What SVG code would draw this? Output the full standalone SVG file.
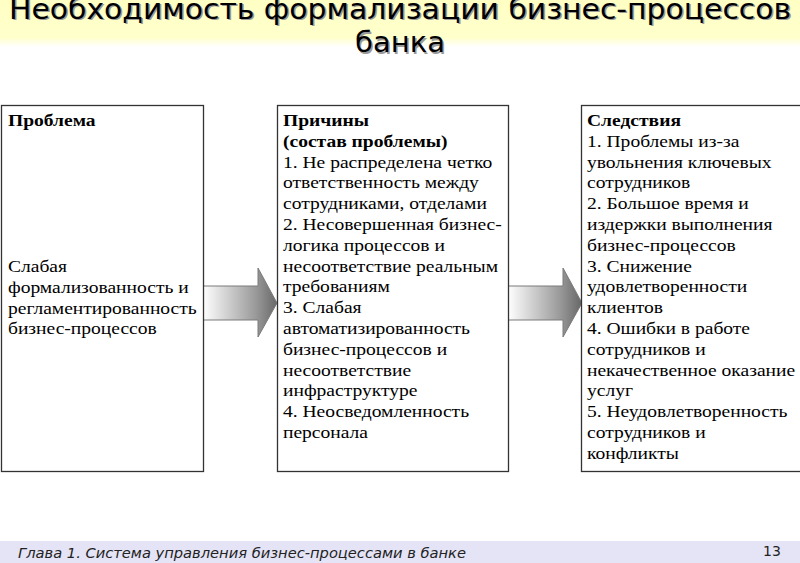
<svg xmlns="http://www.w3.org/2000/svg" width="800" height="563" viewBox="0 0 800 563">
<style>
.box{fill:#fff;stroke:#333;stroke-width:1.3}
.t{font-family:'Liberation Serif','DejaVu Serif',serif;font-size:17px;fill:#000}
.b{font-weight:bold}
.title{font-family:'DejaVu Sans',sans-serif;font-size:29px;text-anchor:middle}
.arrow{stroke:#7a7a7a;stroke-width:1}
.foot{font-family:'DejaVu Sans',sans-serif;font-size:14px;fill:#222}
</style>
<defs>
<linearGradient id="band" x1="0" y1="0" x2="0" y2="1">
<stop offset="0" stop-color="#FFFFC4"/>
<stop offset="0.8" stop-color="#FFFFCC"/>
<stop offset="1" stop-color="#FFFFFF"/>
</linearGradient>
<linearGradient id="g1" gradientUnits="userSpaceOnUse" x1="203" y1="0" x2="278" y2="0">
<stop offset="0" stop-color="#FFFFFF"/>
<stop offset="0.7" stop-color="#9a9a9a"/>
<stop offset="1" stop-color="#666666"/>
</linearGradient>
<linearGradient id="g2" gradientUnits="userSpaceOnUse" x1="508" y1="0" x2="582" y2="0">
<stop offset="0" stop-color="#FFFFFF"/>
<stop offset="0.7" stop-color="#9a9a9a"/>
<stop offset="1" stop-color="#666666"/>
</linearGradient>
</defs>
<rect x="0" y="0" width="800" height="47" fill="url(#band)"/>
<g id="title">
<text class="title" x="401.5" y="20" fill="#9a9a9a" textLength="782" lengthAdjust="spacingAndGlyphs">Необходимость формализации бизнес-процессов</text>
<text class="title" x="401.5" y="53.5" fill="#9a9a9a">банка</text>
<text class="title" x="400" y="18.5" fill="#000" textLength="782" lengthAdjust="spacingAndGlyphs">Необходимость формализации бизнес-процессов</text>
<text class="title" x="400" y="52" fill="#000">банка</text>
</g>
<g id="connectors">
<path class="arrow" fill="url(#g1)" d="M203,286 H258 V268 L277,303 L258,337 V320 H203 Z"/>
<path class="arrow" fill="url(#g2)" d="M508,286 H563 V268 L582,303 L563,337 V320 H508 Z"/>
</g>
<g id="problem">
<rect class="box" x="1.5" y="105.5" width="202" height="366"/>
<g transform="matrix(1.15,0,0,1,-1.2,0)">
<text class="t b" x="8" y="126">Проблема</text>
<text class="t" x="8" y="272">Слабая</text>
<text class="t" x="8" y="293">формализованность и</text>
<text class="t" x="8" y="314">регламентированность</text>
<text class="t" x="8" y="334">бизнес-процессов</text>
</g>
</g>
<g id="causes">
<rect class="box" x="277.5" y="105.5" width="231" height="366"/>
<text class="t" x="283" y="126" transform="matrix(1.15,0,0,1,-42.45,0)"><tspan class="b">Причины</tspan>
<tspan class="b" x="283" dy="20.8">(состав проблемы)</tspan>
<tspan x="283" dy="20.8">1. Не распределена четко</tspan>
<tspan x="283" dy="20.8">ответственность между</tspan>
<tspan x="283" dy="20.8">сотрудниками, отделами</tspan>
<tspan x="283" dy="20.8">2. Несовершенная бизнес-</tspan>
<tspan x="283" dy="20.8">логика процессов и</tspan>
<tspan x="283" dy="20.8">несоответствие реальным</tspan>
<tspan x="283" dy="20.8">требованиям</tspan>
<tspan x="283" dy="20.8">3. Слабая</tspan>
<tspan x="283" dy="20.8">автоматизированность</tspan>
<tspan x="283" dy="20.8">бизнес-процессов и</tspan>
<tspan x="283" dy="20.8">несоответствие</tspan>
<tspan x="283" dy="20.8">инфраструктуре</tspan>
<tspan x="283" dy="20.8">4. Неосведомленность</tspan>
<tspan x="283" dy="20.8">персонала</tspan></text>
</g>
<g id="consequences">
<rect class="box" x="581.5" y="105.5" width="222" height="366"/>
<text class="t" x="587" y="126" transform="matrix(1.15,0,0,1,-88.05,0)"><tspan class="b">Следствия</tspan>
<tspan x="587" dy="20.8">1. Проблемы из-за</tspan>
<tspan x="587" dy="20.8">увольнения ключевых</tspan>
<tspan x="587" dy="20.8">сотрудников</tspan>
<tspan x="587" dy="20.8">2. Большое время и</tspan>
<tspan x="587" dy="20.8">издержки выполнения</tspan>
<tspan x="587" dy="20.8">бизнес-процессов</tspan>
<tspan x="587" dy="20.8">3. Снижение</tspan>
<tspan x="587" dy="20.8">удовлетворенности</tspan>
<tspan x="587" dy="20.8">клиентов</tspan>
<tspan x="587" dy="20.8">4. Ошибки в работе</tspan>
<tspan x="587" dy="20.8">сотрудников и</tspan>
<tspan x="587" dy="20.8">некачественное оказание</tspan>
<tspan x="587" dy="20.8">услуг</tspan>
<tspan x="587" dy="20.8">5. Неудовлетворенность</tspan>
<tspan x="587" dy="20.8">сотрудников и</tspan>
<tspan x="587" dy="20.8">конфликты</tspan></text>
</g>
<g id="footer">
<rect x="0" y="541" width="800" height="22" fill="#E4E4F6"/>
<text class="foot" x="18" y="558" font-style="italic" textLength="448" lengthAdjust="spacingAndGlyphs">Глава 1. Система управления бизнес-процессами в банке</text>
<text class="foot" x="763" y="556" font-size="15">13</text>
</g>
</svg>
